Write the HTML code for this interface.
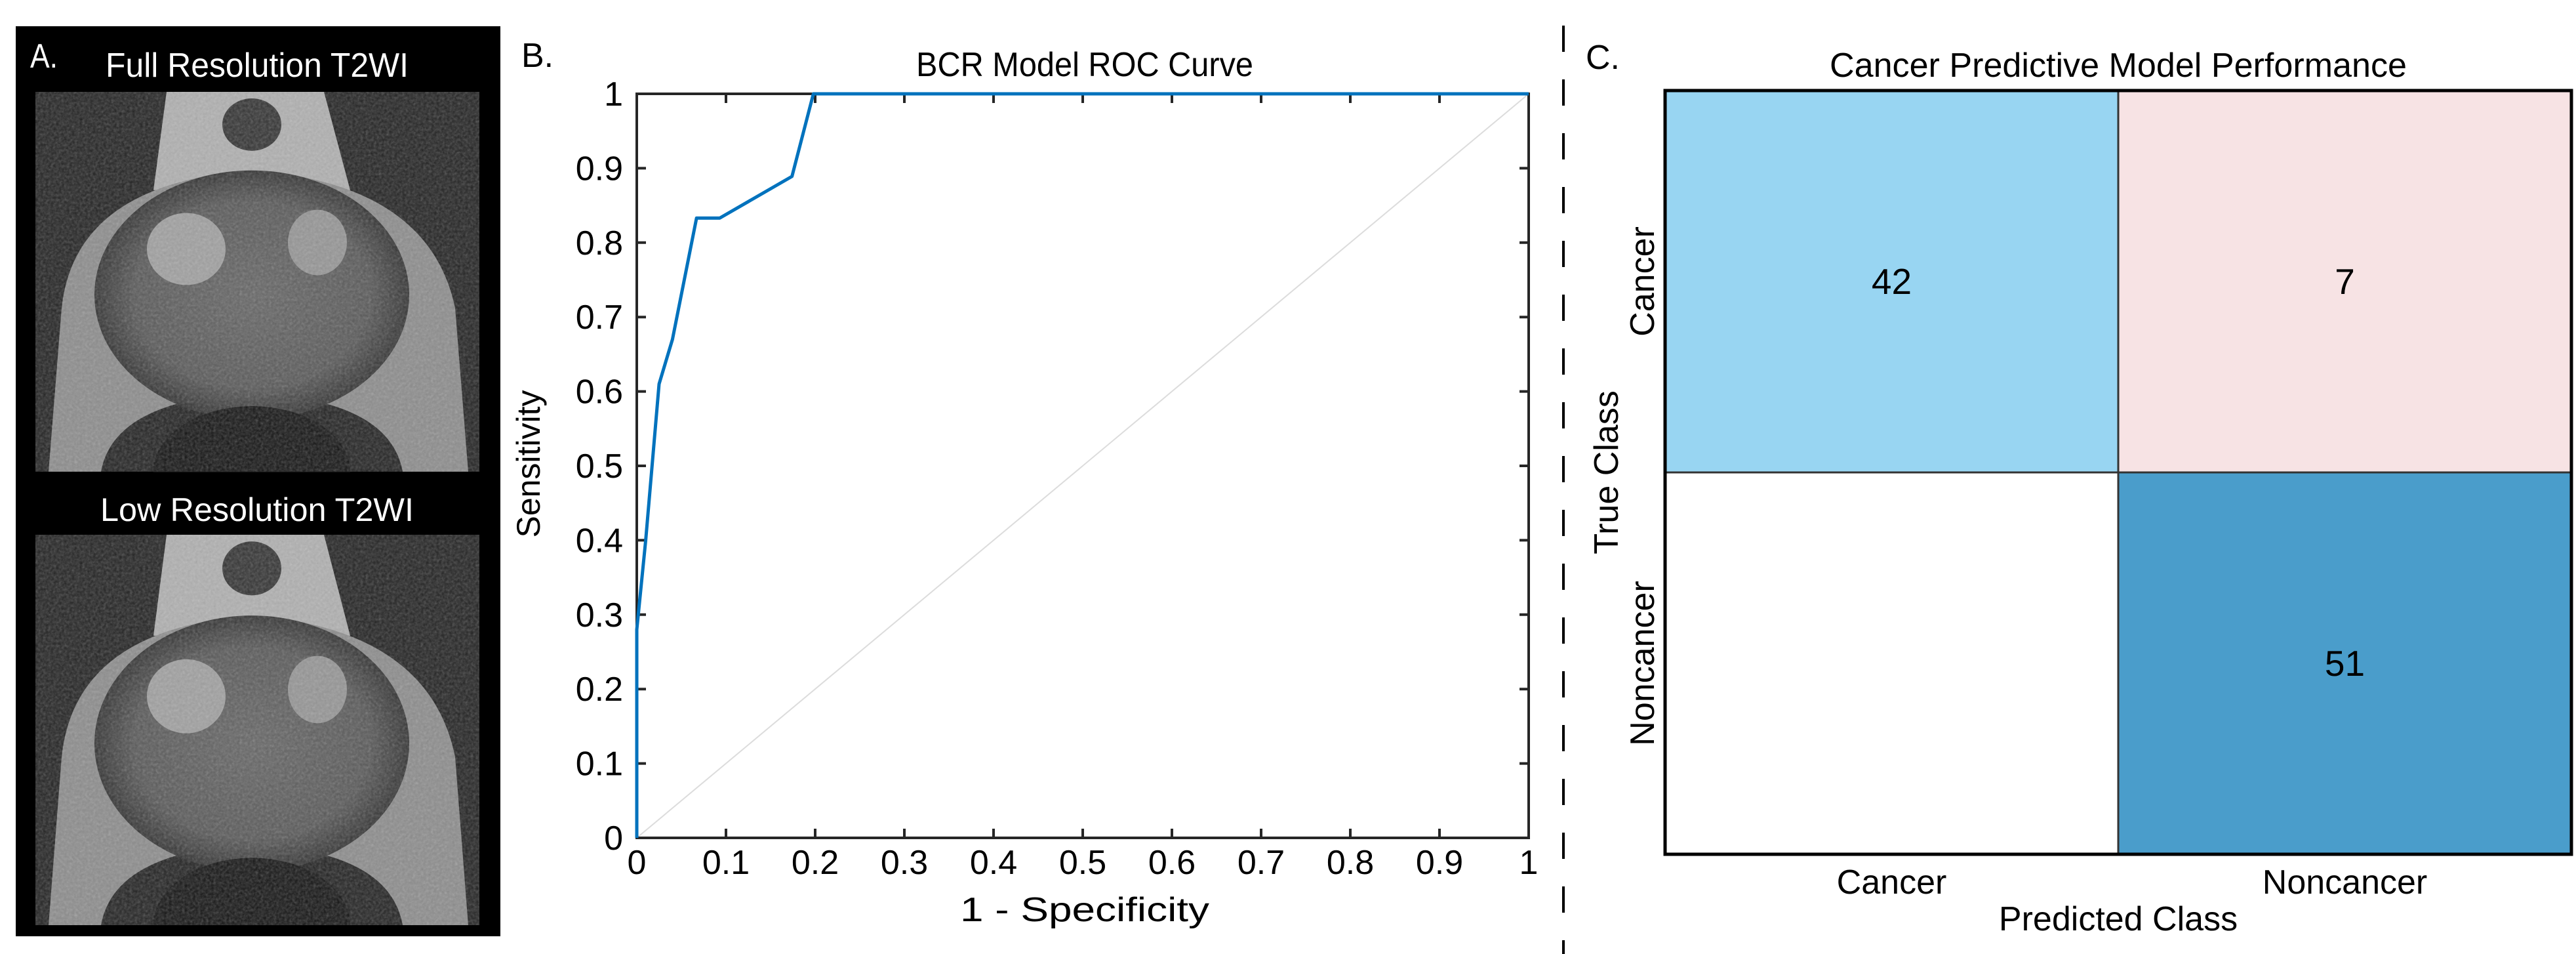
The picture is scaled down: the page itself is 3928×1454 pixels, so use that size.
<!DOCTYPE html>
<html><head><meta charset="utf-8"><style>
html,body{margin:0;padding:0;background:#fff;}
svg{display:block;font-family:"Liberation Sans",sans-serif;}
</style></head><body>
<svg id="fig" width="3928" height="1454" viewBox="0 0 3928 1454" xmlns="http://www.w3.org/2000/svg">
<defs>
<radialGradient id="gland" cx="50%" cy="50%" r="50%">
<stop offset="0%" stop-color="#666"/><stop offset="75%" stop-color="#585858"/><stop offset="100%" stop-color="#333"/>
</radialGradient>
<filter id="noise"><feTurbulence type="fractalNoise" baseFrequency="0.25" numOctaves="2" result="n"/><feColorMatrix type="saturate" values="0"/><feComponentTransfer><feFuncA type="table" tableValues="0 0.35"/></feComponentTransfer><feComposite in2="SourceGraphic" operator="in"/></filter>
<clipPath id="imclip"><rect x="0" y="0" width="677" height="580"/></clipPath>
<g id="mri">
<rect x="0" y="0" width="677" height="580" fill="#222"/>
<path d="M200 0 L440 0 L480 150 L180 150 Z" fill="#b0b0b0"/>
<ellipse cx="330" cy="50" rx="45" ry="40" fill="#333"/>
<path d="M40 330 Q60 140 330 120 Q600 140 640 330 L660 580 L560 580 Q540 470 330 460 Q120 470 100 580 L20 580 Z" fill="#8c8c8c"/>
<ellipse cx="330" cy="310" rx="240" ry="190" fill="url(#gland)"/>
<ellipse cx="230" cy="240" rx="60" ry="55" fill="#a0a0a0"/>
<ellipse cx="430" cy="230" rx="45" ry="50" fill="#959595"/>
<ellipse cx="330" cy="580" rx="150" ry="100" fill="#141414"/>
<rect x="0" y="0" width="677" height="580" fill="#fff" filter="url(#noise)"/>
</g>
</defs>

<!-- Panel A -->
<g>
<rect x="24" y="40" width="739" height="1387" fill="#000"/>
<text x="46" y="103" fill="#fff" font-size="52" textLength="42" lengthAdjust="spacingAndGlyphs">A.</text>
<text x="161" y="117" fill="#fff" font-size="52" textLength="462" lengthAdjust="spacingAndGlyphs">Full Resolution T2WI</text>
<g transform="translate(54,140)" clip-path="url(#imclip)"><use href="#mri" transform="scale(1,0.998)"/></g>
<text x="153" y="794" fill="#fff" font-size="50" textLength="478" lengthAdjust="spacingAndGlyphs">Low Resolution T2WI</text>
<g transform="translate(54,815) scale(1,1.026)" clip-path="url(#imclip)"><use href="#mri"/></g>
</g>

<!-- Panel B: ROC -->
<g id="roc"></g>

<!-- Divider -->
<line x1="2384" y1="39" x2="2384" y2="1454" stroke="#000" stroke-width="4" stroke-dasharray="40 42"/>

<!-- Panel C -->
<g id="cm"></g>
</svg>
<script>
const NS='http://www.w3.org/2000/svg';
function mk(parent,tag,attrs,text){const e=document.createElementNS(NS,tag);for(const k in attrs)e.setAttribute(k,attrs[k]);if(text!==undefined)e.textContent=text;parent.appendChild(e);return e;}

// ROC data
const rocFpr=[0,0,0.01,0.025,0.04,0.067,0.093,0.174,0.198,1];
const rocTpr=[0,0.28,0.40,0.61,0.67,0.833,0.833,0.889,1,1];
const xTicks=[0,0.1,0.2,0.3,0.4,0.5,0.6,0.7,0.8,0.9,1];
const yTicks=[0,0.1,0.2,0.3,0.4,0.5,0.6,0.7,0.8,0.9,1];
const xTickLabels=['0','0.1','0.2','0.3','0.4','0.5','0.6','0.7','0.8','0.9','1'];
const yTickLabels=['0','0.1','0.2','0.3','0.4','0.5','0.6','0.7','0.8','0.9','1'];

const L=971,R=2331,T=143,B=1277;
const sx=v=>L+v*(R-L), sy=v=>B-v*(B-T);
const roc=document.getElementById('roc');
let t;
t=mk(roc,'text',{x:795,y:102,'font-size':52});


t.textContent='B.';
t=mk(roc,'text',{x:1654,y:116,'font-size':52,'text-anchor':'middle',textLength:'514',lengthAdjust:'spacingAndGlyphs'});


t.textContent='BCR Model ROC Curve';
let d=mk(roc,'line',{x1:sx(0),y1:sy(0),x2:sx(1),y2:sy(1),stroke:'#dcdcdc','stroke-width':2});


let box=mk(roc,'rect',{x:L,y:T,width:R-L,height:B-T,fill:'none',stroke:'#262626','stroke-width':4});


xTicks.forEach((v,i)=>{
  let tk=mk(roc,'path',{d:`M${sx(v)} ${B}v-14M${sx(v)} ${T}v14`,stroke:'#262626','stroke-width':4});
  
  
  let lb=mk(roc,'text',{x:sx(v),y:1332,'font-size':52,'text-anchor':'middle'});
  
  
  lb.textContent=xTickLabels[i];
});
yTicks.forEach((v,i)=>{
  let tk=mk(roc,'path',{d:`M${L} ${sy(v)}h14M${R} ${sy(v)}h-14`,stroke:'#262626','stroke-width':4});
  
  
  let lb=mk(roc,'text',{x:950,y:sy(v)+18,'font-size':52,'text-anchor':'end'});
  
  
  lb.textContent=yTickLabels[i];
});
let pts=rocFpr.map((f,i)=>sx(f)+','+sy(rocTpr[i])).join(' ');
let curve=mk(roc,'polyline',{points:pts,fill:'none',stroke:'#0072BD','stroke-width':5,'stroke-linejoin':'round'});


t=mk(roc,'text',{x:1654,y:1404,'font-size':52,'text-anchor':'middle',textLength:'380',lengthAdjust:'spacingAndGlyphs'});


t.textContent='1 - Specificity';
t=mk(roc,'text',{x:0,y:0,'font-size':50,'text-anchor':'middle',transform:'translate(823,707) rotate(-90)'});


t.textContent='Sensitivity';

// Confusion matrix data
const classes=['Cancer','Noncancer'];
const counts=[[42,7],[0,51]];
const cellColors=[['#98D5F2','#F7E3E4'],['#FFFFFF','#4A9DCB']];

const CL=2539,CR=3921,CT=138,CB=1302;
const cw=(CR-CL)/classes.length, ch=(CB-CT)/classes.length;
const cm=document.getElementById('cm');
t=mk(cm,'text',{x:2418,y:105,'font-size':52});


t.textContent='C.';
t=mk(cm,'text',{x:(CL+CR)/2,y:117,'font-size':52,'text-anchor':'middle',textLength:'880',lengthAdjust:'spacingAndGlyphs'});


t.textContent='Cancer Predictive Model Performance';
counts.forEach((row,r)=>row.forEach((v,c)=>{
  let cell=mk(cm,'rect',{x:CL+c*cw,y:CT+r*ch,width:cw,height:ch,fill:cellColors[r][c],stroke:'#333','stroke-width':3});
  
  
  if(v>0){
    let n=mk(cm,'text',{x:CL+(c+0.5)*cw,y:CT+(r+0.5)*ch+19,'font-size':55,'text-anchor':'middle'});
    
    
    n.textContent=v;
  }
}));
let cb=mk(cm,'rect',{x:CL,y:CT,width:CR-CL,height:CB-CT,fill:'none',stroke:'#000','stroke-width':5});


classes.forEach((c,i)=>{
  let lb=mk(cm,'text',{x:CL+(i+0.5)*cw,y:1362,'font-size':52,'text-anchor':'middle'});
  
  
  lb.textContent=c;
  let yl=mk(cm,'text',{x:0,y:0,'font-size':52,'text-anchor':'middle',transform:`translate(${2522},${CT+(i+0.5)*ch}) rotate(-90)`});
  
  
  yl.textContent=c;
});
t=mk(cm,'text',{x:(CL+CR)/2,y:1418,'font-size':52,'text-anchor':'middle'});


t.textContent='Predicted Class';
t=mk(cm,'text',{x:0,y:0,'font-size':52,'text-anchor':'middle',transform:`translate(2467,${(CT+CB)/2}) rotate(-90)`});


t.textContent='True Class';
</script>
</body></html>
